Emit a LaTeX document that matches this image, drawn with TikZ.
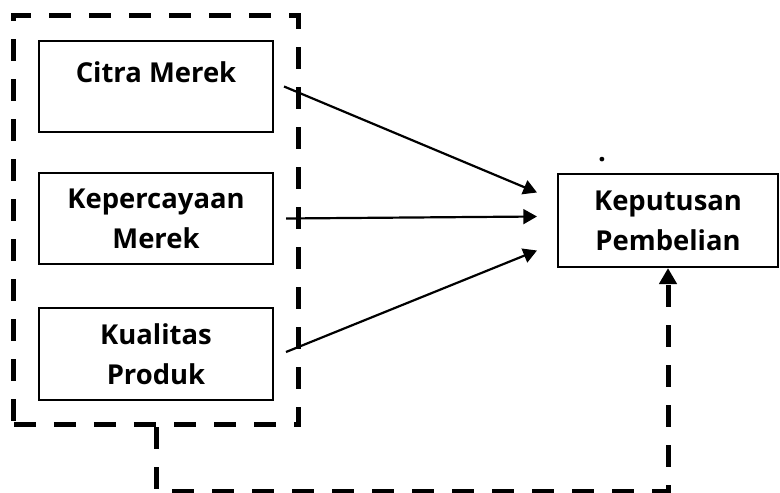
\documentclass[tikz,border=0pt]{standalone}
\usepackage{fontspec}
\setmainfont{Open Sans}
\usetikzlibrary{positioning, arrows.meta, fit, calc}

\begin{document}
\begin{tikzpicture}[x=0.025cm, y=-0.025cm,
  varbox/.style={rectangle, draw=black, line width=0.05cm, minimum width=5.85cm, minimum height=2.28cm, align=center, text depth=0pt, font=\fontsize{19.5}{28.5}\selectfont\bfseries},
  link/.style={line width=0.055cm, -{Triangle[length=0.34cm, width=0.37cm]}},
  group/.style={draw=black, line width=0.125cm, dash pattern=on 0.55cm off 0.45cm}]
  \useasboundingbox (0,0) rectangle (780,492);

  % Independent variables
  \node[varbox] (citra) at (156,86.5) {Citra Merek\\[-8.5pt]~};
  \node[varbox] (kepercayaan) at (156,218.5) {Kepercayaan\\Merek};
  \node[varbox] (kualitas) at (156,354) {Kualitas\\Produk};

  % Dependent variable
  \node[varbox, minimum width=5.5cm, minimum height=2.33cm] (kp) at (668,220.5) {Keputusan\\Pembelian};
  \node[font=\fontsize{19.5}{28.5}\selectfont\bfseries, inner sep=0pt] (dot) at (602,160) {.};

  % Simultaneous group
  \node[group, fit=(citra)(kualitas), inner sep=0.6cm] (grp) {};

  % Partial effects
  \draw[link] ($(citra.east)+(10,0)$) -- ($(kp.west)+(-20,-28)$);
  \draw[link] ($(kepercayaan.east)+(12,0)$) -- ($(kp.west)+(-20,-4)$);
  \draw[link] ($(kualitas.east)+(12,-2)$) -- ($(kp.west)+(-20,30)$);

  % Simultaneous effect
  \draw[group, -{Triangle[length=0.4cm, width=0.43cm]}] (grp.south) -- ++(0,64) -| (kp.south);
\end{tikzpicture}
\end{document}
